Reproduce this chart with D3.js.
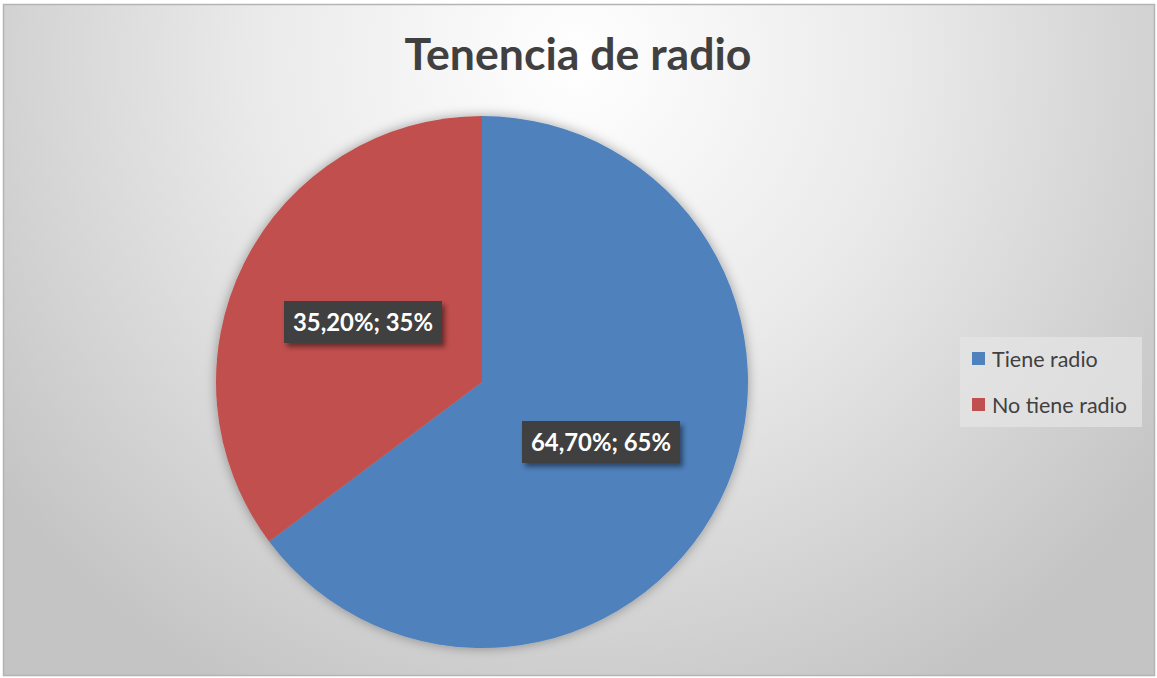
<!DOCTYPE html>
<html>
<head>
<meta charset="utf-8">
<script src="https://cdn.jsdelivr.net/npm/d3@7"></script>
<style>
  html, body { margin: 0; padding: 0; background: #ffffff; }
  svg { display: block; }
</style>
</head>
<body>
<div id="chart"></div>
<script>
// Datos
titulo = 'Tenencia de radio'
categorias = ['Tiene radio', 'No tiene radio']
valores = [64.7, 35.2]
etiquetas = ['64,70%; 65%', '35,20%; 35%']
colores = ['#4F81BD', '#C0504D']

anchototal = 1157
altototal = 678

svg = d3.select('#chart')
  .append('svg')
  .attr('width', anchototal)
  .attr('height', altototal)

defs = svg.append('defs')

// fondo con gradiente radial
grad = defs.append('radialGradient')
  .attr('id', 'fondo')
  .attr('gradientUnits', 'userSpaceOnUse')
  .attr('cx', 578).attr('cy', 60)
  .attr('r', 720)
grad.append('stop').attr('offset', '0%').attr('stop-color', '#ffffff')
grad.append('stop').attr('offset', '45%').attr('stop-color', '#eaeaea')
grad.append('stop').attr('offset', '100%').attr('stop-color', '#c4c4c4')

sombra = defs.append('filter').attr('id', 'sombra')
  .attr('x', '-20%').attr('y', '-20%').attr('width', '140%').attr('height', '140%')
sombra.append('feDropShadow')
  .attr('dx', 0).attr('dy', 0).attr('stdDeviation', 6)
  .attr('flood-color', '#000').attr('flood-opacity', 0.35)

sombraEtq = defs.append('filter').attr('id', 'sombraEtq')
  .attr('x', '-20%').attr('y', '-30%').attr('width', '140%').attr('height', '170%')
sombraEtq.append('feDropShadow')
  .attr('dx', 3).attr('dy', 4).attr('stdDeviation', 2.5)
  .attr('flood-color', '#000').attr('flood-opacity', 0.45)

svg.append('rect')
  .attr('x', 3.5).attr('y', 4.5)
  .attr('width', anchototal - 6).attr('height', altototal - 7)
  .attr('fill', 'url(#fondo)')
  .attr('stroke', '#b4b4b4')
  .attr('stroke-width', 1.5)

// Titulo
tit = svg.append('text')
  .attr('x', 578)
  .attr('y', 70)
  .attr('text-anchor', 'middle')
  .attr('font-family', 'Lato, "Open Sans", sans-serif')
  .attr('font-weight', 'bold')
  .attr('font-size', 44)
  .attr('fill', '#404040')
  .text(titulo)
ancho = tit.node().getComputedTextLength()
tit.attr('font-size', 44 * 347 / ancho)

// Pie
radio = 266
gPie = svg.append('g')
  .attr('transform', `translate(482, 382)`)

pie = d3.pie().sort(null).value(d => d)
arc = d3.arc().innerRadius(0).outerRadius(radio)

datosPie = pie(valores)

gPie.append('g')
  .attr('filter', 'url(#sombra)')
  .selectAll('path')
  .data(datosPie)
  .enter()
  .append('path')
    .attr('d', arc)
    .attr('fill', (d, i) => colores[i])

// posiciones de etiquetas (centro de caja)
posEtq = [[601, 442], [363, 322]]

etq = gPie.selectAll('.etq')
  .data(datosPie)
  .enter()
  .append('g')
  .attr('class', 'etq')
  .attr('transform', (d, i) => `translate(${posEtq[i][0] - 482}, ${posEtq[i][1] - 382})`)

etq.each(function(d, i) {
  g = d3.select(this)
  caja = g.append('rect').attr('fill', '#404040').attr('filter', 'url(#sombraEtq)')
  t = g.append('text')
    .attr('text-anchor', 'middle')
    .attr('dy', '0.36em')
    .attr('font-family', 'Lato, "Open Sans", sans-serif')
    .attr('font-weight', 'bold')
    .attr('font-size', 22)
    .attr('fill', '#ffffff')
    .text(etiquetas[i])
  w = t.node().getComputedTextLength()
  t.attr('font-size', 22 * 140 / w)
  caja.attr('x', -79).attr('y', -21).attr('width', 158).attr('height', 42)
})

// Leyenda
leyenda = svg.append('g').attr('transform', 'translate(960, 337)')
leyenda.append('rect')
  .attr('width', 182).attr('height', 90)
  .attr('fill', '#e6e6e6')
  .attr('fill-opacity', 0.7)

items = leyenda.selectAll('.item')
  .data(categorias)
  .enter()
  .append('g')
  .attr('class', 'item')
  .attr('transform', (d, i) => `translate(12, ${22 + i * 46})`)
items.append('rect')
  .attr('x', 0).attr('y', -7)
  .attr('width', 13).attr('height', 13)
  .attr('fill', (d, i) => colores[i])
items.append('text')
  .attr('x', 20)
  .attr('dy', '0.36em')
  .attr('font-family', 'Lato, "Open Sans", sans-serif')
  .attr('font-size', 21.5)
  .attr('fill', '#404040')
  .text(d => d)
</script>
</body>
</html>
